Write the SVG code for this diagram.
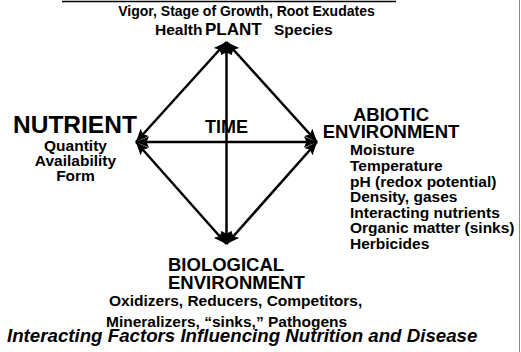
<svg xmlns="http://www.w3.org/2000/svg" width="521" height="352" viewBox="0 0 521 352">
<style>
text{font-family:"Liberation Sans",Arial,sans-serif;font-weight:bold;fill:#000}
.s{font-size:15.5px}
.m{font-size:18.5px}
.c{text-anchor:middle}
.ln{stroke:#000;stroke-width:2.5;fill:none;marker-start:url(#ah);marker-end:url(#ah)}
</style>
<defs>
<marker id="ah" markerUnits="userSpaceOnUse" markerWidth="14" markerHeight="12" refX="13" refY="5.5" orient="auto-start-reverse" viewBox="0 0 14 11">
<path d="M0,0 L13,5.5 L0,11 L2.5,5.5 z" fill="#000"/>
</marker>
</defs>
<rect width="521" height="352" fill="#fff"/>
<line x1="62" y1="1.5" x2="396" y2="1.5" stroke="#000" stroke-width="1.5"/>
<line x1="519.5" y1="0" x2="519.5" y2="352" stroke="#888" stroke-width="1"/>
<g id="connectors">
<line class="ln" x1="136" y1="142" x2="226.5" y2="42"/>
<line class="ln" x1="317" y1="142" x2="226.5" y2="42"/>
<line class="ln" x1="136" y1="142" x2="226.5" y2="244"/>
<line class="ln" x1="317" y1="142" x2="226.5" y2="244"/>
<line class="ln" x1="226.5" y1="244" x2="226.5" y2="42"/>
<line class="ln" x1="136" y1="142" x2="317" y2="142"/>
</g>
<g id="plant">
<text x="246.5" y="16" class="c" font-size="14">Vigor, Stage of Growth, Root Exudates</text>
<text x="155" y="35" class="s">Health</text>
<text x="205" y="35" font-size="17">PLANT</text>
<text x="274" y="35" class="s">Species</text>
</g>
<g id="nutrient">
<text x="13" y="133" font-size="24.5">NUTRIENT</text>
<text x="75.5" y="151" class="s c">Quantity</text>
<text x="75.5" y="166" class="s c">Availability</text>
<text x="75.5" y="181" class="s c">Form</text>
</g>
<g id="time">
<text x="205" y="133" font-size="18">TIME</text>
</g>
<g id="abiotic">
<text x="391" y="121" class="m c">ABIOTIC</text>
<text x="391" y="138" class="m c">ENVIRONMENT</text>
<text x="350" y="155" class="s">Moisture</text>
<text x="350" y="171" class="s">Temperature</text>
<text x="350" y="186.5" class="s">pH (redox potential)</text>
<text x="350" y="202" class="s">Density, gases</text>
<text x="350" y="217.5" class="s">Interacting nutrients</text>
<text x="350" y="233" class="s">Organic matter (sinks)</text>
<text x="350" y="249" class="s">Herbicides</text>
</g>
<g id="biological">
<text x="168" y="271" class="m">BIOLOGICAL</text>
<text x="168" y="289" class="m">ENVIRONMENT</text>
<text x="109" y="306" class="s">Oxidizers, Reducers, Competitors,</text>
<text x="106" y="327" class="s">Mineralizers, “sinks,” Pathogens</text>
</g>
<g id="title">
<text x="7" y="342" font-size="18.7" font-style="italic">Interacting Factors Influencing Nutrition and Disease</text>
</g>
</svg>
